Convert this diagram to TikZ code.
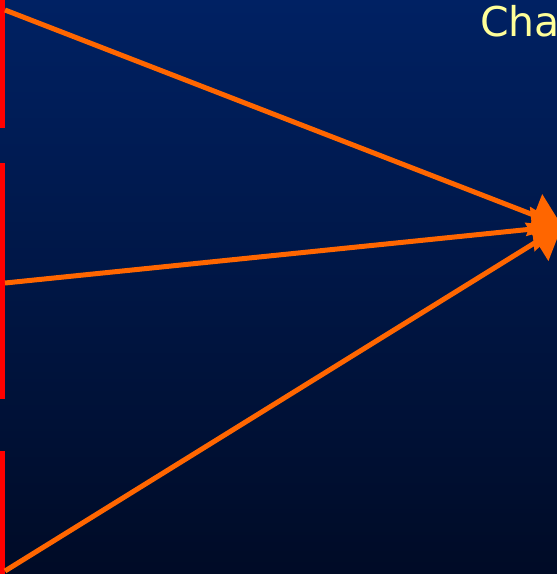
\documentclass[tikz,border=0pt]{standalone}
\usepackage{fontspec}
\setmainfont{DejaVu Sans}
\usetikzlibrary{arrows.meta}
\definecolor{bgtop}{RGB}{0,33,99}
\definecolor{bgbot}{RGB}{0,11,38}
\definecolor{arr}{RGB}{255,102,0}
\definecolor{txt}{RGB}{255,255,153}
\definecolor{bar}{RGB}{255,0,0}
\tikzset{
  conn/.style={draw=arr, line width=5pt, -{Triangle[length=30pt,width=44pt]}},
  redbar/.style={fill=bar, draw=none},
}
\begin{document}
\begin{tikzpicture}[x=1pt,y=-1pt]
\useasboundingbox (0,0) rectangle (557,574);
\clip (0,0) rectangle (557,574);
\shade[top color=bgtop, bottom color=bgbot] (0,0) rectangle (557,574);
\fill[redbar] (0,0) rectangle (5,128);
\fill[redbar] (0,163) rectangle (5,399);
\fill[redbar] (0,451) rectangle (5,574);
\coordinate (s1) at (5,10);
\coordinate (s2) at (5,283);
\coordinate (s3) at (5,571);
\coordinate (tip) at (562,226);
\draw[conn] (s1) -- (tip);
\draw[conn] (s2) -- (tip);
\draw[conn] (s3) -- (tip);
\node[anchor=base west, text=txt, font=\fontsize{41}{48}\selectfont, inner sep=0pt] (title) at (480,36) {Cha};
\end{tikzpicture}
\end{document}
